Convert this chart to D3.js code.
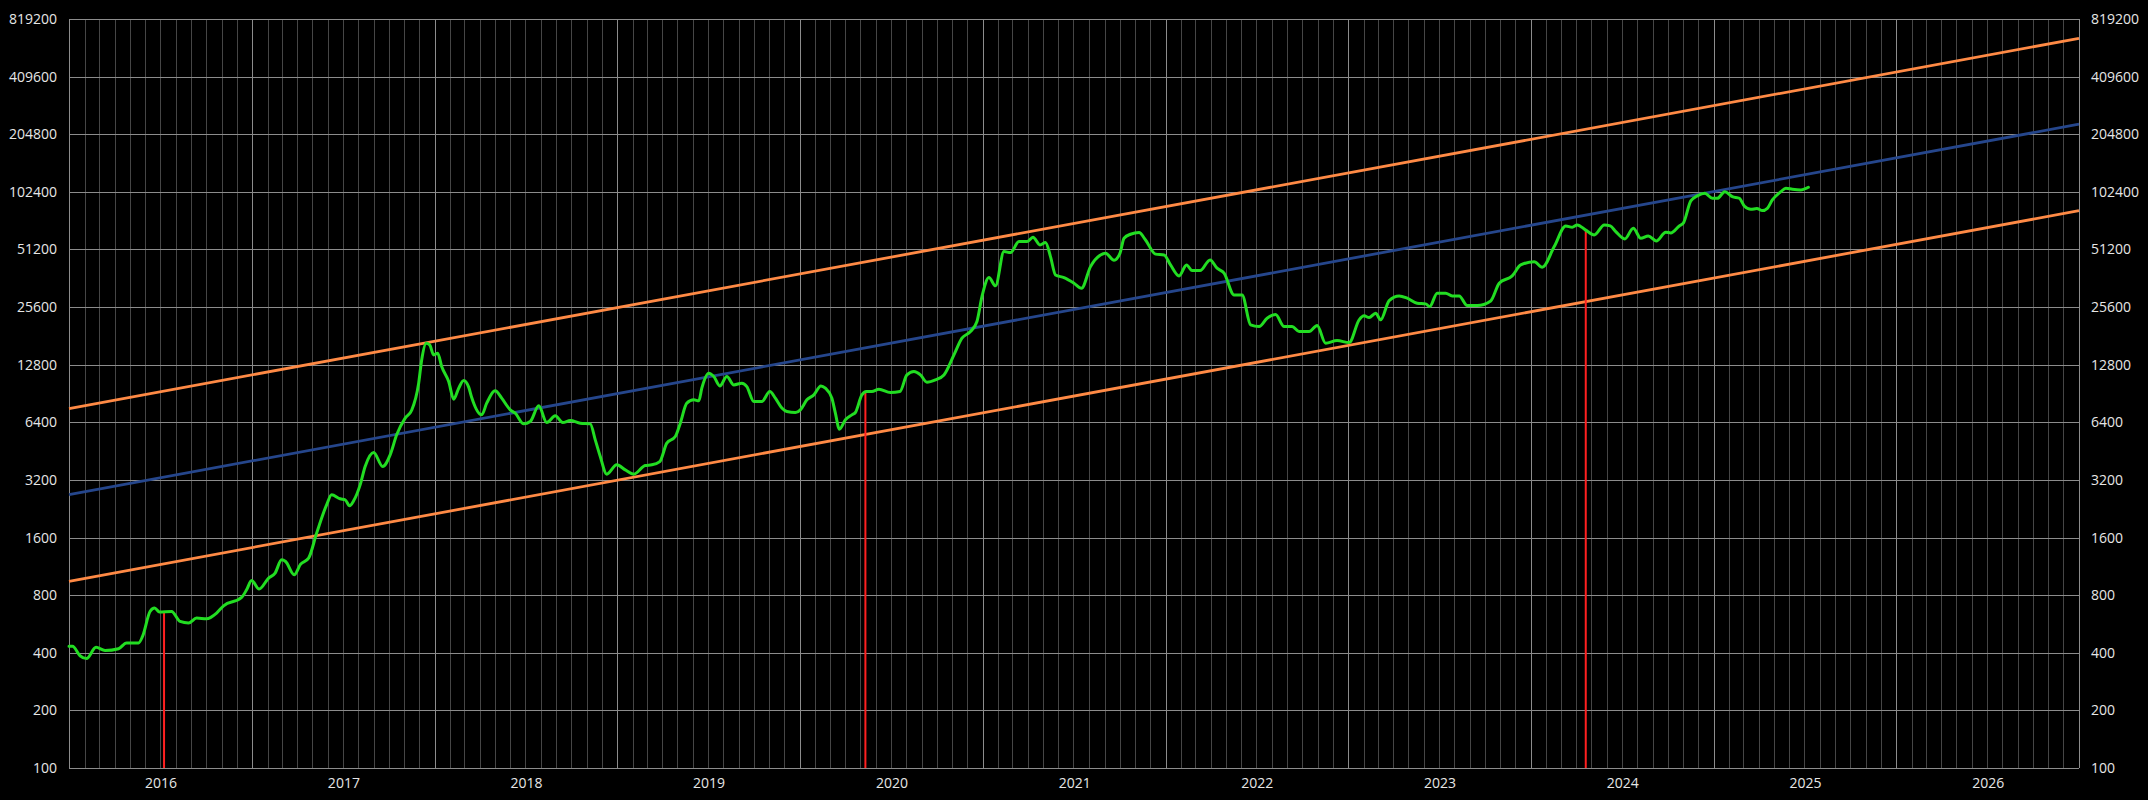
<!DOCTYPE html>
<html>
<head>
<meta charset="utf-8">
<script src="https://cdn.jsdelivr.net/npm/d3@7"></script>
<style>
  html, body { margin: 0; padding: 0; background: #000; }
  svg { display: block; }
  text { font-family: "Open Sans", "Noto Sans", sans-serif; font-size: 14px; fill: #e6e6e6; }
</style>
</head>
<body>
<svg id="chart" width="2148" height="800"></svg>
<script>
// ---------- data ----------
const yearLabels = ["2016","2017","2018","2019","2020","2021","2022","2023","2024","2025","2026"];
const yTickValues = [100, 200, 400, 800, 1600, 3200, 6400, 12800, 25600, 51200, 102400, 204800, 409600, 819200];
const xDomain = ["2016-01-01", "2027-01-01"];

// price curve (smoothed)
const priceDates = [
"2016-01-01","2016-01-08","2016-01-23","2016-02-05","2016-02-24","2016-03-13","2016-04-09","2016-04-25","2016-05-19","2016-05-27",
"2016-06-11","2016-06-20","2016-06-30","2016-07-24","2016-08-10","2016-08-27","2016-09-12","2016-10-02","2016-10-22","2016-11-05",
"2016-12-11","2016-12-21","2016-12-31","2017-01-15","2017-02-03","2017-02-16","2017-03-01","2017-03-09","2017-03-26","2017-04-08",
"2017-04-24","2017-05-10","2017-05-30","2017-06-09","2017-06-26","2017-07-06","2017-07-15","2017-07-23","2017-08-05","2017-08-15",
"2017-09-01","2017-09-19","2017-10-04","2017-10-17","2017-11-03","2017-11-16","2017-11-30","2017-12-06","2017-12-15","2017-12-22",
"2017-12-30","2018-01-07","2018-01-15","2018-01-29","2018-02-08","2018-02-18","2018-02-28","2018-03-10","2018-03-16","2018-04-05",
"2018-04-15","2018-05-02","2018-05-15","2018-06-01","2018-06-11","2018-06-28","2018-07-11","2018-07-28","2018-08-13","2018-08-30",
"2018-09-14","2018-09-29","2018-10-19","2018-11-08","2018-11-18","2018-11-28","2018-12-11","2018-12-31","2019-01-17","2019-02-03",
"2019-02-26","2019-03-11","2019-03-27","2019-04-10","2019-04-27","2019-05-07","2019-05-20","2019-06-03","2019-06-13","2019-06-19",
"2019-07-03","2019-07-13","2019-07-25","2019-08-08","2019-08-22","2019-09-07","2019-09-17","2019-10-01","2019-10-17","2019-11-02",
"2019-11-13","2019-11-26","2019-12-06","2019-12-23","2020-01-02","2020-01-15","2020-01-29","2020-02-12","2020-02-21","2020-03-05",
"2020-03-12","2020-03-20","2020-04-01","2020-04-14","2020-04-21","2020-05-04","2020-05-13","2020-05-24","2020-06-07","2020-06-30",
"2020-07-19","2020-08-02","2020-08-16","2020-08-29","2020-09-11","2020-09-28","2020-10-15","2020-11-04","2020-11-20","2020-12-07",
"2020-12-20","2020-12-30","2021-01-13","2021-01-26","2021-02-12","2021-02-25","2021-03-14","2021-03-30","2021-04-11","2021-04-25",
"2021-05-06","2021-05-16","2021-05-26","2021-06-12","2021-07-02","2021-07-17","2021-08-04","2021-08-24","2021-09-03","2021-09-20",
"2021-10-02","2021-10-10","2021-10-23","2021-11-09","2021-11-22","2021-12-12","2021-12-29","2022-01-11","2022-01-28","2022-02-12",
"2022-02-23","2022-03-11","2022-03-31","2022-04-14","2022-04-28","2022-05-18","2022-06-03","2022-06-20","2022-07-07","2022-07-23",
"2022-08-09","2022-08-26","2022-09-11","2022-09-25","2022-10-15","2022-10-31","2022-11-17","2022-12-10","2023-01-03","2023-01-23",
"2023-02-02","2023-02-12","2023-02-25","2023-03-07","2023-03-24","2023-04-13","2023-04-29","2023-05-19","2023-06-05","2023-06-13",
"2023-06-28","2023-07-15","2023-07-28","2023-08-11","2023-08-27","2023-09-16","2023-10-13","2023-10-30","2023-11-25","2023-12-12",
"2024-01-08","2024-01-24","2024-02-17","2024-03-11","2024-03-24","2024-04-03","2024-04-20","2024-05-07","2024-05-27","2024-06-08",
"2024-06-19","2024-07-07","2024-07-24","2024-08-08","2024-08-23","2024-09-08","2024-09-27","2024-10-07","2024-10-24","2024-11-01",
"2024-11-16","2024-11-29","2024-12-14","2024-12-29","2025-01-08","2025-01-23","2025-02-07","2025-02-21","2025-03-03","2025-03-16",
"2025-03-28","2025-04-08","2025-04-18","2025-04-28","2025-05-15","2025-05-25","2025-06-07","2025-06-24","2025-07-09"
];
const priceValues = [
432,432,386,373,427,411,420,450,450,487,
657,685,653,657,583,572,607,602,645,704,
778,853,954,861,982,1043,1224,1200,1022,1162,
1249,1687,2372,2675,2550,2519,2343,2488,3015,3760,
4449,3760,4328,5506,6727,7400,10250,13560,16580,16250,
14400,14700,12510,10450,8456,9650,10580,9770,8620,7000,
8055,9345,8560,7435,7145,6281,6456,7800,6384,6916,
6384,6537,6335,6281,5183,4241,3431,3837,3613,3431,
3806,3837,3992,4979,5392,6335,8055,8386,8286,9650,
11560,11100,9920,11100,10040,10250,9840,8214,8214,9266,
8560,7600,7285,7200,7435,8386,8906,9920,9650,8560,
7145,5892,6594,7000,7200,8906,9266,9266,9535,9152,
9266,11320,11790,11320,10370,10670,11320,14400,17600,19070,
21500,29040,36500,33040,49900,49300,56300,56300,59300,54100,
55600,47000,37700,36500,34100,32100,41650,47940,48960,45000,
48960,58600,61500,62700,57400,48400,47940,42500,37250,42500,
39700,39700,45150,40870,38480,29630,29630,20670,20250,22390,
23400,20250,20250,19070,19070,20500,16580,17100,16700,21950,
23030,22560,23780,21950,27680,29280,28480,26820,26600,25750,
30250,30250,29280,29280,26070,26070,27570,34100,37250,42500,
44200,41360,53000,67950,66900,68800,64600,61000,68800,68000,
63450,58100,66100,58600,60250,56750,63000,62500,67950,70200,
91800,97500,100700,94800,94800,102600,96700,94800,86400,83000,
83800,81700,84000,92900,102600,106900,105600,104800,108200
];

// channel lines (straight on log scale) : values at start / end of x domain
const channelDates = ["2016-01-01", "2027-01-01"];
const upperBand = [7550, 649000];
const midBand = [2680, 231000];
const lowerBand = [945, 81600];

// halving markers
const halvingDates = ["2016-07-09", "2020-05-11", "2024-04-20"];
const halvingPrices = [657, 9270, 64800];

// ---------- layout ----------
const W = 2148, H = 800;
const plotLeft = 69, plotRight = 2079, plotTop = 19, plotBottom = 768;

const parse = d3.utcParse("%Y-%m-%d");
const svg = d3.select("#chart");
svg.append("rect").attr("width", W).attr("height", H).attr("fill", "#000");

const x = d3.scaleUtc().domain(xDomain.map(parse)).range([plotLeft, plotRight]);
const y = d3.scaleLog().base(2).domain([100, 819200]).range([plotBottom, plotTop]);

// ---------- grid ----------
const grid = svg.append("g");
const months = d3.utcMonth.range(parse(xDomain[0]), d3.utcDay.offset(parse(xDomain[1]), 1));
grid.selectAll("line.m").data(months.filter(d => d.getUTCMonth() !== 0)).join("line")
  .attr("x1", d => Math.round(x(d)) + 0.5).attr("x2", d => Math.round(x(d)) + 0.5)
  .attr("y1", plotTop).attr("y2", plotBottom)
  .attr("stroke", "#464646").attr("stroke-width", 1);
grid.selectAll("line.yr").data(months.filter(d => d.getUTCMonth() === 0)).join("line")
  .attr("x1", d => Math.round(x(d)) + 0.5).attr("x2", d => Math.round(x(d)) + 0.5)
  .attr("y1", plotTop).attr("y2", plotBottom)
  .attr("stroke", "#8c8c8c").attr("stroke-width", 1);
grid.selectAll("line.h").data(yTickValues).join("line")
  .attr("x1", plotLeft).attr("x2", plotRight)
  .attr("y1", d => Math.round(y(d)) + 0.5).attr("y2", d => Math.round(y(d)) + 0.5)
  .attr("stroke", "#8c8c8c").attr("stroke-width", 1);

// ---------- axes labels ----------
const yAxisL = d3.axisLeft(y).tickValues(yTickValues).tickFormat(d3.format("d")).tickSize(0).tickPadding(12);
const yAxisR = d3.axisRight(y).tickValues(yTickValues).tickFormat(d3.format("d")).tickSize(0).tickPadding(12);
const gL = svg.append("g").attr("transform", `translate(${plotLeft},0)`).call(yAxisL);
const gR = svg.append("g").attr("transform", `translate(${plotRight},0)`).call(yAxisR);
[gL, gR].forEach(g => {
  g.select(".domain").remove();
  g.selectAll("text").attr("font-size", 14).attr("fill", "#e6e6e6")
    .attr("font-family", "'Open Sans', 'Noto Sans', sans-serif");
});

const midYears = yearLabels.map(s => {
  const a = parse(s + "-01-01"), b = d3.utcYear.offset(a, 1);
  return new Date((a.getTime() + b.getTime()) / 2);
});
const xAxis = d3.axisBottom(x).tickValues(midYears).tickFormat((d, i) => yearLabels[i]).tickSize(0).tickPadding(10);
const gX = svg.append("g").attr("transform", `translate(0,${plotBottom})`).call(xAxis);
gX.select(".domain").remove();
gX.selectAll("text").attr("font-size", 14).attr("fill", "#e6e6e6")
  .attr("font-family", "'Open Sans', 'Noto Sans', sans-serif");

// ---------- channel ----------
const bandLine = d3.line().x(d => x(d[0])).y(d => y(d[1]));
const bands = [
  { vals: upperBand, color: "#ff8a45" },
  { vals: midBand, color: "#25468c" },
  { vals: lowerBand, color: "#ff8a45" }
];
bands.forEach(b => {
  svg.append("path")
    .datum(channelDates.map((d, i) => [parse(d), b.vals[i]]))
    .attr("d", bandLine)
    .attr("fill", "none").attr("stroke", b.color).attr("stroke-width", 2.8);
});

// ---------- halving markers ----------
svg.selectAll("line.halving").data(halvingDates.map((d, i) => ({ date: parse(d), price: halvingPrices[i] })))
  .join("line")
  .attr("x1", d => x(d.date)).attr("x2", d => x(d.date))
  .attr("y1", plotBottom).attr("y2", d => y(d.price))
  .attr("stroke", "#ff2020").attr("stroke-width", 2);

// ---------- price ----------
const priceData = priceDates.map((d, i) => [parse(d), priceValues[i]]);
const priceLine = d3.line().x(d => x(d[0])).y(d => y(d[1])).curve(d3.curveMonotoneX);
svg.append("path").datum(priceData).attr("d", priceLine)
  .attr("fill", "none").attr("stroke", "#22dd22").attr("stroke-width", 3)
  .attr("stroke-linejoin", "round").attr("stroke-linecap", "round");
</script>
</body>
</html>
